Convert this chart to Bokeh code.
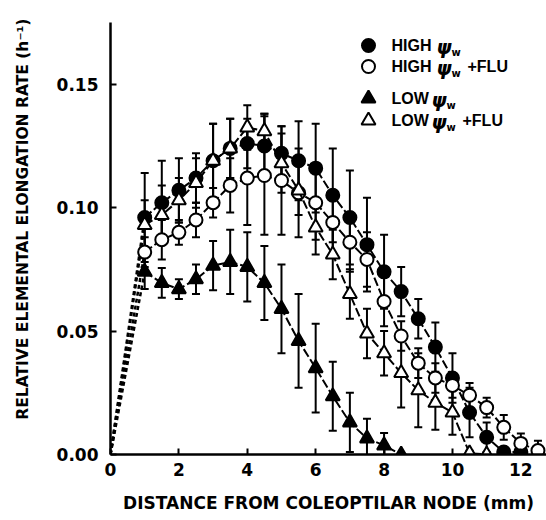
from bokeh.plotting import figure
from bokeh.models import (Whisker, TeeHead, ColumnDataSource, FixedTicker,
                          NumeralTickFormatter, Range1d)
from bokeh.embed import file_html
from bokeh.resources import INLINE
from bokeh.core.properties import value

# ---------------- data ----------------
dist_high = [1.0, 1.5, 2.0, 2.5, 3.0, 3.5, 4.0, 4.5, 5.0, 5.5, 6.0, 6.5,
             7.0, 7.5, 8.0, 8.5, 9.0, 9.5, 10.0, 10.5, 11.0, 11.5, 12.0]
rate_high = [0.096, 0.102, 0.107, 0.112, 0.119, 0.124, 0.126, 0.125, 0.122,
             0.119, 0.116, 0.105, 0.096, 0.085, 0.074, 0.066, 0.055, 0.0435,
             0.031, 0.017, 0.007, 0.001, 0.001]
err_high = [0.018, 0.017, 0.013, 0.010, 0.015, 0.012, 0.010, 0.013, 0.011,
            0.016, 0.018, 0.019, 0.019, 0.019, 0.015, 0.010, 0.008, 0.010,
            0.010, 0.010, 0.006, 0.001, 0.001]

dist_high_flu = [1.0, 1.5, 2.0, 2.5, 3.0, 3.5, 4.0, 4.5, 5.0, 5.5, 6.0, 6.5,
                 7.0, 7.5, 8.0, 8.5, 9.0, 9.5, 10.0, 10.5, 11.0, 11.5, 12.0, 12.5]
rate_high_flu = [0.082, 0.087, 0.090, 0.095, 0.102, 0.109, 0.112, 0.113, 0.111,
                 0.106, 0.102, 0.094, 0.086, 0.079, 0.062, 0.048, 0.037, 0.031,
                 0.028, 0.024, 0.019, 0.011, 0.0045, 0.0016]
err_high_flu = [0.006, 0.008, 0.005, 0.007, 0.006, 0.011, 0.019, 0.024, 0.022,
                0.018, 0.015, 0.013, 0.012, 0.011, 0.010, 0.006, 0.006, 0.006,
                0.005, 0.005, 0.004, 0.005, 0.004, 0.004]

dist_low = [1.0, 1.5, 2.0, 2.5, 3.0, 3.5, 4.0, 4.5, 5.0, 5.5, 6.0, 6.5,
            7.0, 7.5, 8.0, 8.5]
rate_low = [0.074, 0.0695, 0.067, 0.071, 0.0765, 0.078, 0.076, 0.0695, 0.059,
            0.046, 0.035, 0.0236, 0.013, 0.0065, 0.0037, 0.0]
err_low = [0.007, 0.006, 0.004, 0.006, 0.010, 0.013, 0.014, 0.015, 0.018,
           0.019, 0.018, 0.014, 0.012, 0.008, 0.005, 0.0]

dist_low_flu = [1.0, 1.5, 2.0, 2.5, 3.0, 3.5, 4.0, 4.5, 5.0, 5.5, 6.0, 6.5,
                7.0, 7.5, 8.0, 8.5, 9.0, 9.5, 10.0, 10.5, 11.0]
rate_low_flu = [0.093, 0.097, 0.103, 0.110, 0.119, 0.124, 0.1325, 0.131, 0.118,
                0.107, 0.092, 0.081, 0.065, 0.049, 0.041, 0.033, 0.026, 0.021,
                0.017, 0.0005, 0.0]
err_low_flu = [0.010, 0.012, 0.009, 0.010, 0.015, 0.012, 0.009, 0.007, 0.012,
               0.010, 0.011, 0.010, 0.010, 0.010, 0.009, 0.014, 0.015, 0.011,
               0.009, 0.001, 0.0]

x_ticks = [0, 2, 4, 6, 8, 10, 12]
y_ticks = [0.0, 0.05, 0.10, 0.15]

FONT = "DejaVu Sans"
LEG_FONT = "Liberation Sans"
X_END = 12.75
Y_END = 0.175

W, H = 546, 520
p = figure(width=W, height=H, output_backend="svg", toolbar_location=None,
           x_range=Range1d(0, X_END), y_range=Range1d(0, Y_END),
           min_border_left=110, min_border_right=0, min_border_top=22,
           min_border_bottom=66)
p.outline_line_color = None
p.xgrid.visible = False
p.ygrid.visible = False
p.background_fill_color = "white"

for ax in (p.xaxis[0], p.yaxis[0]):
    ax.axis_line_width = 2.5
    ax.major_tick_line_width = 2
    ax.major_tick_in = 6
    ax.major_tick_out = 0
    ax.minor_tick_line_color = None
    ax.major_label_text_font = FONT
    ax.major_label_text_font_style = "bold"
    ax.major_label_text_font_size = "17px"
    ax.major_label_text_color = "black"
    ax.axis_label_text_font = FONT
    ax.axis_label_text_font_style = "bold"
    ax.axis_label_text_color = "black"

p.xaxis.ticker = FixedTicker(ticks=x_ticks)
p.yaxis.ticker = FixedTicker(ticks=y_ticks)
p.yaxis.formatter = NumeralTickFormatter(format="0.00")
p.xaxis.major_label_standoff = 8
p.yaxis.major_label_standoff = 12
p.xaxis.axis_label = "DISTANCE FROM COLEOPTILAR NODE (mm)"
p.xaxis.axis_label_text_font_size = "17px"
p.xaxis.axis_label_standoff = 14
# leading en-spaces lift the title's centre a little above the frame centre
p.yaxis.axis_label = "\u2002" * 5 + "RELATIVE ELEMENTAL ELONGATION RATE (h\u207b\u00b9)"
p.yaxis.axis_label_text_font_size = "15.5px"
p.yaxis.axis_label_standoff = 22

series = [
    (dist_high, rate_high, err_high, "circle", "black"),
    (dist_high_flu, rate_high_flu, err_high_flu, "circle", "white"),
    (dist_low, rate_low, err_low, "triangle", "black"),
    (dist_low_flu, rate_low_flu, err_low_flu, "triangle", "white"),
]

# extrapolation to origin (short thick dashes)
for xs, ys, es, mk, fc in series:
    p.line([0, xs[0]], [0, ys[0]], line_color="black", line_width=2.5,
           line_dash="4 3")

for xs, ys, es, mk, fc in series:
    src = ColumnDataSource(dict(x=xs, y=ys,
                                upper=[y + e for y, e in zip(ys, es)],
                                lower=[y - e for y, e in zip(ys, es)]))
    p.line("x", "y", source=src, line_color="black", line_width=2,
           line_dash="9 3")
    w = Whisker(source=src, base="x", upper="upper", lower="lower",
                line_color="black", line_width=2, level="underlay",
                upper_head=TeeHead(size=8, line_width=2, line_color="black"),
                lower_head=TeeHead(size=8, line_width=2, line_color="black"))
    p.add_layout(w)
    size = 13 if mk == "circle" else 14
    p.scatter("x", "y", source=src, marker=mk, size=size,
              fill_color=fc, line_color="black", line_width=2)

# ---------------- legend (layout in canvas pixels -> data) ----------------
PX_LEFT, PX_BOTTOM = 110.0, 454.0
PX_PER_X = (W - PX_LEFT) / X_END
PX_PER_Y = (PX_BOTTOM - 22.0) / Y_END


def sx(px):
    return (px - PX_LEFT) / PX_PER_X


def sy(py):
    return (PX_BOTTOM - py) / PX_PER_Y


legend_rows = [
    ("HIGH", "", "circle", "black", 45, 436),
    ("HIGH", "+FLU", "circle", "white", 66, 436),
    ("LOW", "", "triangle", "black", 98, 431),
    ("LOW", "+FLU", "triangle", "white", 120, 431),
]
for word, suffix, mk, fc, py, psi_px in legend_rows:
    p.scatter([sx(368)], [sy(py)], marker=mk, size=13 if mk == "circle" else 14,
              fill_color=fc, line_color="black", line_width=2)
    p.text([sx(391)], [sy(py)], text=[word], text_font=value(LEG_FONT),
           text_font_style="bold", text_font_size="16px",
           text_baseline="middle", text_color="black")
    p.text([sx(psi_px)], [sy(py + 1)], text=["\u03c8"], text_font=value(FONT),
           text_font_style="bold italic", text_font_size="19px",
           text_baseline="middle", text_color="black")
    p.text([sx(psi_px + 15)], [sy(py + 7)], text=["w"], text_font=value(FONT),
           text_font_style="bold", text_font_size="10px",
           text_baseline="middle", text_color="black")
    if suffix:
        p.text([sx(psi_px + 31)], [sy(py)], text=[suffix], text_font=value(LEG_FONT),
               text_font_style="bold", text_font_size="16px",
               text_baseline="middle", text_color="black")

open("out.html", "w").write(file_html(p, INLINE))
